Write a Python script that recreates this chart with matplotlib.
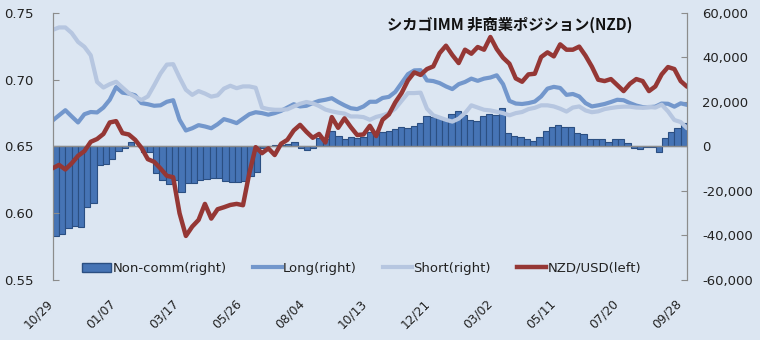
import matplotlib
matplotlib.use('Agg')
import matplotlib.pyplot as plt
import matplotlib.patches as mpatches
import matplotlib.lines as mlines
import matplotlib.transforms as mtransforms
from matplotlib.ticker import FuncFormatter
import numpy as np

plt.rcParams['font.family'] = ['DejaVu Sans']

# 週次データ（10/29 〜 09/28, 101週）
tick_labels = ['10/29', '01/07', '03/17', '05/26', '08/04', '10/13',
               '12/21', '03/02', '05/11', '07/20', '09/28']

non_comm = [-40200, -39200, -36600, -35800, -36000, -27000, -25600, -8400, -8000, -5500,
            -2000, -600, 2000, 400, -2300, -2500, -12000, -15000, -17000, -15200,
            -20300, -16200, -16200, -14900, -14500, -14200, -14100, -15400, -16100, -16100,
            -15300, -13100, -11300, -600, 300, 700, 600, 1000, 2200, -800,
            -1600, -500, 4000, 3500, 7000, 4600, 3200, 4400, 4000, 4300,
            6700, 6700, 6700, 7000, 7700, 8600, 8300, 9200, 10400, 13800,
            13400, 12700, 11700, 14700, 15800, 14300, 11900, 11500, 13700, 14600,
            14200, 17200, 5900, 4700, 4100, 3200, 2500, 4100, 6800, 8600,
            9600, 8700, 8700, 5900, 5400, 3200, 3200, 3200, 1900, 3200,
            3200, 1400, -500, -1300, -100, -100, -2300, 3700, 6300, 8200,
            10400]

long_pos = [11700, 14000, 16300, 13500, 10800, 14500, 15500, 15300, 17500, 21000,
            26700, 24200, 23800, 23000, 19500, 19000, 18300, 18500, 20100, 20800,
            12000, 7200, 8200, 9600, 9000, 8200, 10000, 12300, 11500, 10500,
            12500, 14500, 15400, 15000, 14300, 15000, 16000, 17500, 19000, 18000,
            18300, 19500, 20500, 21000, 21700, 20000, 18500, 17200, 16800, 18000,
            20100, 20100, 21800, 22300, 24500, 28500, 32500, 34200, 34300, 29700,
            29400, 28500, 27000, 25800, 28000, 29000, 30500, 29500, 30500, 31000,
            32000, 28000, 20500, 19300, 19100, 19500, 20200, 22500, 26000, 26800,
            26300, 23200, 23600, 22500, 19500, 18000, 18500, 19100, 20000, 21000,
            20800, 19500, 18400, 17700, 17700, 17900, 19300, 19200, 17900, 19400,
            18700]

short_pos = [52400, 53500, 53500, 51000, 47000, 44800, 41000, 29000, 26500, 28000,
             29100, 26500, 24000, 22300, 20900, 22500, 27500, 32800, 36800, 37000,
             31000, 25500, 23200, 24900, 23800, 22400, 23000, 26000, 27300, 26200,
             27000, 27000, 26400, 17500, 16800, 16500, 16500, 16700, 18000, 19200,
             20000, 19400, 18200, 16600, 15800, 15200, 14800, 13500, 13500, 13200,
             12000, 13300, 14000, 15000, 17000, 20500, 24000, 24000, 24200, 17000,
             14000, 13000, 12000, 11200, 12500, 15000, 18500, 17500, 16500, 16200,
             15600, 15000, 14000, 15000, 15500, 16800, 17400, 18500, 18500, 18000,
             17000, 15700, 17500, 18000, 16200, 15400, 15800, 16800, 17300, 17700,
             17900, 17900, 17500, 17400, 17800, 17500, 18800, 15800, 11900, 11000,
             8200]

nzdusd = [0.6337, 0.6362, 0.6328, 0.6374, 0.6430, 0.6465, 0.6535, 0.6556, 0.6594, 0.6680,
          0.6690, 0.6600, 0.6590, 0.6550, 0.6490, 0.6405, 0.6385, 0.6335, 0.6280, 0.6270,
          0.6000, 0.5830, 0.5900, 0.5950, 0.6070, 0.5960, 0.6030, 0.6045, 0.6062, 0.6070,
          0.6060, 0.6300, 0.6495, 0.6450, 0.6486, 0.6436, 0.6520, 0.6550, 0.6620, 0.6662,
          0.6610, 0.6565, 0.6594, 0.6530, 0.6720, 0.6640, 0.6711, 0.6645, 0.6586, 0.6590,
          0.6655, 0.6578, 0.6700, 0.6740, 0.6830, 0.6900, 0.6995, 0.7055, 0.7036, 0.7080,
          0.7100, 0.7200, 0.7255, 0.7185, 0.7125, 0.7225, 0.7195, 0.7245, 0.7225, 0.7320,
          0.7230, 0.7165, 0.7120, 0.7010, 0.6985, 0.7040, 0.7045, 0.7170, 0.7205, 0.7175,
          0.7265, 0.7225, 0.7225, 0.7248, 0.7180, 0.7098, 0.7000, 0.6990, 0.7005, 0.6960,
          0.6915, 0.6970, 0.7005, 0.6990, 0.6915, 0.6950, 0.7040, 0.7095, 0.7080, 0.6990,
          0.6948]

BG = '#DCE6F2'
C_BAR = '#4674B5'
C_BAR_EDGE = '#2B4F82'
C_LONG = '#7397CC'
C_SHORT = '#B6C6E0'
C_NZD = '#953735'
C_AXIS = '#8C8C8C'
C_TEXT = '#222222'

n = len(non_comm)
x_bar = np.arange(n)
x_line = np.linspace(-0.5, n - 0.5, n)

fig = plt.figure(figsize=(7.6, 3.4), dpi=100, facecolor=BG)
ax = fig.add_axes([0.0693, 0.1765, 0.8347, 0.7853])   # 左軸: NZD/USD
ax2 = ax.twinx()                                     # 右軸: ポジション

# 右軸（棒 + Long/Short）
ax2.bar(x_bar, non_comm, width=1.0, color=C_BAR, edgecolor=C_BAR_EDGE,
        linewidth=0.8, zorder=2)
ax2.axhline(0, color=C_AXIS, linewidth=1.0, zorder=3)
ax2.plot(x_line, long_pos, color=C_LONG, linewidth=3.0,
         solid_capstyle='round', solid_joinstyle='round', zorder=4)
ax2.plot(x_line, short_pos, color=C_SHORT, linewidth=3.0,
         solid_capstyle='round', solid_joinstyle='round', zorder=5)

# 左軸（為替レート）は最前面に
ax.plot(x_line, nzdusd, color=C_NZD, linewidth=3.2,
        solid_capstyle='round', solid_joinstyle='round', zorder=6)
ax.set_zorder(ax2.get_zorder() + 1)
ax.patch.set_visible(False)
ax2.set_facecolor(BG)

ax.set_xlim(-0.5, n - 0.5)
ax.set_ylim(0.55, 0.75)
ax2.set_ylim(-60000, 60000)

ax.set_yticks(np.arange(0.55, 0.7501, 0.05))
ax.yaxis.set_major_formatter(FuncFormatter(lambda v, p: f'{v:.2f}'))
ax2.set_yticks(np.arange(-60000, 60001, 20000))
ax2.yaxis.set_major_formatter(FuncFormatter(lambda v, p: f'{int(v):,}'))

ax.set_xticks(np.arange(0, n, 10))
ax.set_xticklabels(tick_labels, rotation=45, ha='right', va='top')
# ラベルを少し右へずらす
shift = mtransforms.ScaledTranslation(3 / 100, 0, fig.dpi_scale_trans)
for lbl in ax.get_xticklabels():
    lbl.set_transform(lbl.get_transform() + shift)

for a in (ax, ax2):
    for s in ('top', 'bottom'):
        a.spines[s].set_visible(False)
    a.spines['left'].set_color(C_AXIS)
    a.spines['right'].set_color(C_AXIS)

ax.tick_params(axis='y', direction='in', length=4, color=C_AXIS,
               labelsize=9.5, pad=14, labelcolor=C_TEXT)
ax2.tick_params(axis='y', direction='in', length=4, color=C_AXIS,
                labelsize=9.5, pad=11, labelcolor=C_TEXT)
ax.tick_params(axis='x', length=0, labelsize=8.8, pad=12, labelcolor=C_TEXT)

# 凡例
handles = [
    mpatches.Patch(facecolor=C_BAR, edgecolor=C_BAR_EDGE, label='Non-comm(right)'),
    mlines.Line2D([], [], color=C_LONG, linewidth=3.0, label='Long(right)'),
    mlines.Line2D([], [], color=C_SHORT, linewidth=3.0, label='Short(right)'),
    mlines.Line2D([], [], color=C_NZD, linewidth=3.2, label='NZD/USD(left)'),
]
leg = ax.legend(handles=handles, loc='center', bbox_to_anchor=(0.487, 0.044),
                ncol=4, frameon=False, fontsize=9.5, handlelength=2.2,
                handletextpad=0.08, columnspacing=2.0)
for t in leg.get_texts():
    t.set_color(C_TEXT)

ax.text(0.72, 0.985, 'シカゴIMM 非商業ポジション(NZD)', transform=ax.transAxes,
        ha='center', va='top', fontsize=11, fontweight='bold',
        family=['Noto Sans CJK JP', 'DejaVu Sans'], color='#111111')

fig.savefig('out.png', dpi=100, facecolor=BG)
